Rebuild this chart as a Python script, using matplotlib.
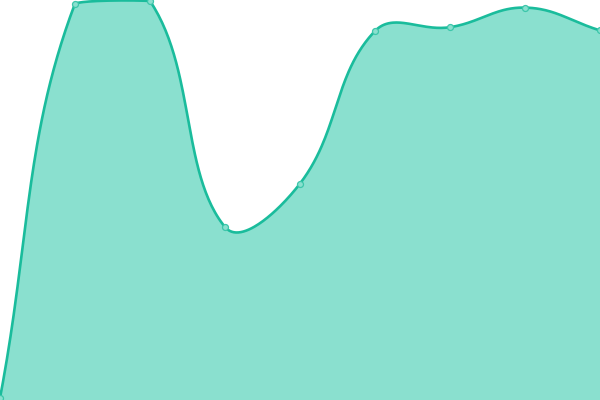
import numpy as np
import matplotlib
matplotlib.use("Agg")
import matplotlib.pyplot as plt

labels = ["A", "B", "C", "D", "E", "F", "G", "H", "I"]
values = [0.5, 99.1, 99.75, 43.25, 54.1, 92.25, 93.2, 98.1, 92.4]

line_color = "#1abc9c"
fill_color = "#8ae0cf"
tension = 0.4


def spline_controls(pts, w, h):
    # chart.js style bezier control points, computed in pixel space
    n = len(pts)
    ctrl = []
    for i in range(n):
        cur = pts[i]
        prev = pts[i - 1] if i > 0 else cur
        nxt = pts[i + 1] if i < n - 1 else cur
        d01 = np.hypot(*(cur - prev))
        d12 = np.hypot(*(nxt - cur))
        tot = d01 + d12
        s01 = d01 / tot if tot else 0
        s12 = d12 / tot if tot else 0
        fa = tension * s01
        fb = tension * s12
        cp_prev = cur - fa * (nxt - prev)
        cp_next = cur + fb * (nxt - prev)
        cp_prev = np.clip(cp_prev, [0, 0], [w, h])
        cp_next = np.clip(cp_next, [0, 0], [w, h])
        ctrl.append((cp_prev, cp_next))
    return ctrl


fig = plt.figure(figsize=(6, 4), dpi=100)
ax = fig.add_axes([0, 0, 1, 1])
x = np.arange(len(values))
ax.set_xlim(0, len(values) - 1)
ax.set_ylim(0, 100)
ax.axis("off")

pts = ax.transData.transform(np.column_stack([x, values]))
w, h = fig.bbox.width, fig.bbox.height
ctrl = spline_controls(pts, w, h)

t = np.linspace(0, 1, 60)[:, None]
curve = []
for i in range(len(pts) - 1):
    p0, p3 = pts[i], pts[i + 1]
    p1, p2 = ctrl[i][1], ctrl[i + 1][0]
    seg = ((1 - t) ** 3) * p0 + 3 * ((1 - t) ** 2) * t * p1 + 3 * (1 - t) * t ** 2 * p2 + t ** 3 * p3
    curve.append(seg if i == 0 else seg[1:])
curve = np.vstack(curve)
cx, cy = ax.transData.inverted().transform(curve).T

ax.fill_between(cx, cy, 0, color=fill_color, lw=0)
ax.plot(cx, cy, color=line_color, lw=1.9, solid_capstyle="round")
ax.plot(x, values, "o", ms=4.3, mfc=fill_color, mec="#3cc6aa", mew=0.9)

fig.savefig("out.png", dpi=100)
